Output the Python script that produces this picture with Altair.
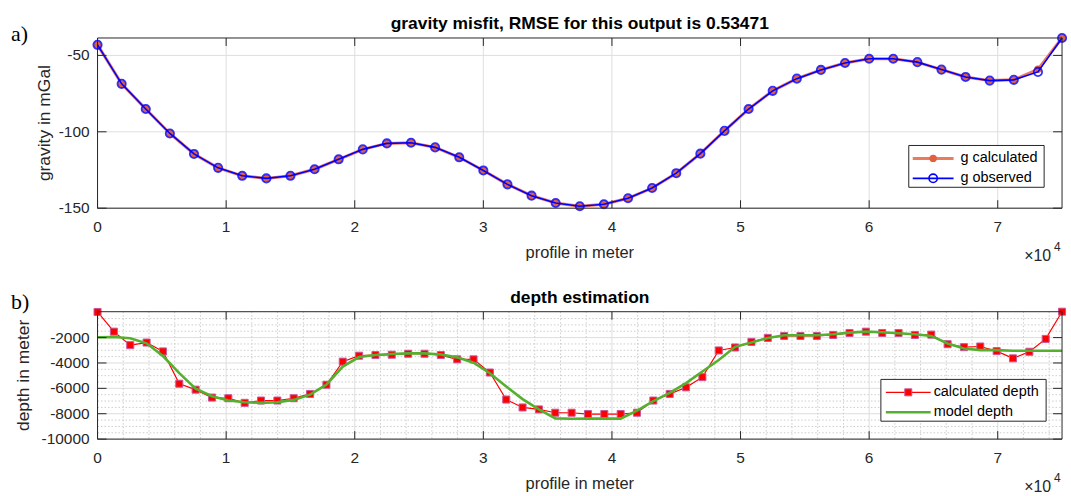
import altair as alt
import pandas as pd

FONT = "Liberation Sans"
SERIF = "Liberation Serif"
AXC = "#262626"
GRIDC = "#DEDEDE"
MINORC = "#CDCDCD"
ORANGE_LINE = "#EC7A5C"
ORANGE_DOT = "#DE6240"
BLUE = "#0000FF"
RED = "#FF0000"
SQ_EDGE = "#C85A9A"
GREEN = "#55B030"

W = 969
H1 = 171
H2 = 128
X_MAX = 75000

# ---------------- data: panel a) gravity ----------------
g_x = [0, 1875, 3750, 5625, 7500, 9375, 11250, 13125, 15000, 16875, 18750,
       20625, 22500, 24375, 26250, 28125, 30000, 31875, 33750, 35625, 37500,
       39375, 41250, 43125, 45000, 46875, 48750, 50625, 52500, 54375, 56250,
       58125, 60000, 61875, 63750, 65625, 67500, 69375, 71250, 73125, 75000]
g_obs = [-43.1, -68.6, -85.1, -101.1, -114.5, -123.6, -128.8, -130.5, -128.8, -124.5,
         -118.0, -111.5, -107.6, -107.2, -110.2, -116.7, -125.3, -134.4, -141.8, -146.6,
         -148.7, -147.4, -143.5, -136.8, -127.1, -114.3, -99.4, -85.1, -73.2, -65.2,
         -59.5, -55.0, -52.2, -52.2, -54.4, -59.3, -64.1, -66.5, -66.0, -60.8, -38.6]
g_calc = [-43.1, -68.6, -85.1, -101.1, -114.5, -123.6, -128.8, -130.5, -128.8, -124.5,
          -118.0, -111.5, -107.6, -107.2, -110.2, -116.7, -125.3, -134.4, -141.8, -146.6,
          -148.7, -147.4, -143.5, -136.8, -127.1, -114.3, -99.4, -85.1, -73.2, -65.2,
          -59.5, -55.0, -52.2, -52.2, -54.4, -59.3, -64.1, -66.5, -66.0, -59.1, -38.6]

# ---------------- data: panel b) depth ----------------
d_x = [0, 1271, 2542, 3814, 5085, 6356, 7627, 8898, 10169, 11441,
       12712, 13983, 15254, 16525, 17797, 19068, 20339, 21610, 22881, 24153,
       25424, 26695, 27966, 29237, 30508, 31780, 33051, 34322, 35593, 36864,
       38136, 39407, 40678, 41949, 43220, 44492, 45763, 47034, 48305, 49576,
       50847, 52119, 53390, 54661, 55932, 57203, 58475, 59746, 61017, 62288,
       63559, 64831, 66102, 67373, 68644, 69915, 71186, 72458, 73729, 75000]
d_calc = [20, -1533, -2597, -2390, -3091, -5636, -6103, -6727, -6778, -7142,
          -6960, -6960, -6778, -6441, -5714, -3896, -3428, -3376, -3350, -3273,
          -3273, -3376, -3714, -3714, -4753, -6882, -7506, -7661, -7921, -7921,
          -8025, -8025, -8025, -7921, -6960, -6441, -5921, -5116, -3013, -2779,
          -2338, -2026, -1870, -1870, -1870, -1792, -1636, -1533, -1636, -1636,
          -1792, -1766, -2519, -2753, -2701, -3065, -3636, -3117, -2104, 40]
d_model = [-1974, -1950, -2050, -2450, -3450, -4805, -6025, -6623, -6960, -7090,
           -7142, -7090, -6908, -6493, -5714, -4285, -3532, -3376, -3298, -3247,
           -3247, -3330, -3558, -3974, -4805, -5850, -6850, -7661, -8363, -8389,
           -8389, -8389, -8389, -7750, -7012, -6363, -5584, -4675, -3766, -2727,
           -2390, -2026, -1818, -1818, -1818, -1740, -1610, -1533, -1584, -1662,
           -1740, -1870, -2468, -2857, -2987, -2987, -3039, -3039, -3039, -3039]

# ---------------- axis ticks and labels ----------------
x_ticks = [0, 10000, 20000, 30000, 40000, 50000, 60000, 70000]
x_labels = ["0", "1", "2", "3", "4", "5", "6", "7"]
g_yticks = [-150, -100, -50]
g_ylabels = ["-150", "-100", "-50"]
g_ydomain = [-150, -38.6]
d_yticks = [-10000, -8000, -6000, -4000, -2000]
d_ylabels = ["-10000", "-8000", "-6000", "-4000", "-2000"]
d_ydomain = [-10000, 40]
d_xminor = [2000, 4000, 6000, 8000, 12000, 14000, 16000, 18000, 22000, 24000,
            26000, 28000, 32000, 34000, 36000, 38000, 42000, 44000, 46000, 48000,
            52000, 54000, 56000, 58000, 62000, 64000, 66000, 68000, 72000, 74000]
d_yminor = [-9500, -9000, -8500, -7500, -7000, -6500, -5500, -5000, -4500,
            -3500, -3000, -2500, -1500, -1000, -500]

one = pd.DataFrame({"k": [0]})


def XS():
    return alt.X("x:Q", scale=alt.Scale(domain=[0, X_MAX], nice=False, zero=False), axis=None)


def txt(s, x, y, size, bold=False, font=FONT, align="left", color="black",
        baseline="alphabetic", angle=0):
    return alt.Chart(one).mark_text(text=s, font=font, fontSize=size,
                                    fontWeight="bold" if bold else "normal",
                                    align=align, baseline=baseline, color=color,
                                    angle=angle).encode(x=alt.value(x), y=alt.value(y))


def axes(h, ydomain, yticks, ylabels, ytitle, ytitle_x, bottom_ext):
    ys = alt.Scale(domain=ydomain, nice=False, zero=False)

    def YS():
        return alt.Y("y:Q", scale=ys, axis=None)

    xt = pd.DataFrame({"x": x_ticks, "lab": x_labels})
    yt = pd.DataFrame({"y": yticks, "lab": ylabels})
    anchor = alt.Chart(one).mark_rect(opacity=0).encode(
        x=alt.value(-87), x2=alt.value(W), y=alt.value(-26), y2=alt.value(h + bottom_ext))
    grid = [
        alt.Chart(xt).mark_rule(color=GRIDC, strokeWidth=1).encode(
            x=XS(), y=alt.value(0), y2=alt.value(h)),
        alt.Chart(yt).mark_rule(color=GRIDC, strokeWidth=1).encode(
            y=YS(), x=alt.value(0), x2=alt.value(W)),
    ]
    deco = [
        alt.Chart(xt).mark_rule(color=AXC, strokeWidth=1).encode(
            x=XS(), y=alt.value(h), y2=alt.value(h - 8)),
        alt.Chart(xt).mark_rule(color=AXC, strokeWidth=1).encode(
            x=XS(), y=alt.value(0), y2=alt.value(8)),
        alt.Chart(yt).mark_rule(color=AXC, strokeWidth=1).encode(
            y=YS(), x=alt.value(0), x2=alt.value(9)),
        alt.Chart(yt).mark_rule(color=AXC, strokeWidth=1).encode(
            y=YS(), x=alt.value(W - 9), x2=alt.value(W)),
        alt.Chart(one).mark_rect(fillOpacity=0, stroke=AXC, strokeWidth=1).encode(
            x=alt.value(0), x2=alt.value(W), y=alt.value(0), y2=alt.value(h)),
        alt.Chart(xt).mark_text(font=FONT, fontSize=15.5, color=AXC, align="center",
                                baseline="alphabetic").encode(
            x=XS(), y=alt.value(h + 24), text="lab:N"),
        alt.Chart(yt).mark_text(font=FONT, fontSize=15.5, color=AXC, align="right",
                                baseline="middle").encode(
            y=YS(), x=alt.value(-8), text="lab:N"),
        txt("profile in meter", W / 2, h + 50, 16.5, align="center", color=AXC),
        txt(ytitle, ytitle_x, h / 2, 17.5, align="center", color=AXC,
            baseline="bottom", angle=270),
        txt("\u00d710", 931, h + 53, 16, color=AXC),
        txt("4", 961, h + 43, 12, color=AXC),
    ]
    return anchor, grid, deco, YS


# ---------------- panel a) ----------------
anchor_a, grid_a, deco_a, YA = axes(H1, g_ydomain, g_yticks, g_ylabels,
                                    "gravity in mGal", -44, 62)
df_calc = pd.DataFrame({"x": g_x, "y": g_calc})
df_obs = pd.DataFrame({"x": g_x, "y": g_obs})

line_calc = alt.Chart(df_calc).mark_line(color=ORANGE_LINE, strokeWidth=3).encode(x=XS(), y=YA())
pts_calc = alt.Chart(df_calc).mark_point(shape="circle", filled=True, size=55,
                                         color=ORANGE_DOT, opacity=1).encode(x=XS(), y=YA())
line_obs = alt.Chart(df_obs).mark_line(color=BLUE, strokeWidth=1.6).encode(x=XS(), y=YA())
pts_obs = alt.Chart(df_obs).mark_point(shape="circle", filled=False, size=70, color=BLUE,
                                       strokeWidth=1.8, opacity=0.8).encode(x=XS(), y=YA())

leg_a = [
    alt.Chart(one).mark_rect(fill="white", stroke=AXC, strokeWidth=1).encode(
        x=alt.value(815), x2=alt.value(951), y=alt.value(108), y2=alt.value(150)),
    alt.Chart(one).mark_rule(color=ORANGE_LINE, strokeWidth=3).encode(
        x=alt.value(819), x2=alt.value(860), y=alt.value(121)),
    alt.Chart(one).mark_point(shape="circle", filled=True, size=55, color=ORANGE_DOT,
                              opacity=1).encode(x=alt.value(839.5), y=alt.value(121)),
    txt("g calculated", 867, 121, 14.5, baseline="middle"),
    alt.Chart(one).mark_rule(color=BLUE, strokeWidth=1.6).encode(
        x=alt.value(819), x2=alt.value(860), y=alt.value(141)),
    alt.Chart(one).mark_point(shape="circle", filled=False, size=70, color=BLUE,
                              strokeWidth=1.6, opacity=1).encode(x=alt.value(839.5), y=alt.value(141)),
    txt("g observed", 867, 141, 14.5, baseline="middle"),
]

panel_a = alt.layer(
    anchor_a, *grid_a, line_calc, pts_calc, line_obs, pts_obs, *deco_a, *leg_a,
    txt("gravity misfit, RMSE for this output is 0.53471", W / 2, -9, 17.5, bold=True, align="center"),
    txt("a)", -87, 3, 22, font=SERIF),
).properties(width=W, height=H1)

# ---------------- panel b) ----------------
anchor_b, grid_b, deco_b, YB = axes(H2, d_ydomain, d_yticks, d_ylabels,
                                    "depth in meter", -65, 57)
df_dc = pd.DataFrame({"x": d_x, "y": d_calc})
df_dm = pd.DataFrame({"x": d_x, "y": d_model})
mx = pd.DataFrame({"x": d_xminor})
my = pd.DataFrame({"y": d_yminor})

minor_x = alt.Chart(mx).mark_rule(color=MINORC, strokeWidth=1, strokeDash=[1.5, 2]).encode(
    x=XS(), y=alt.value(0), y2=alt.value(H2))
minor_y = alt.Chart(my).mark_rule(color=MINORC, strokeWidth=1, strokeDash=[1.5, 2]).encode(
    y=YB(), x=alt.value(0), x2=alt.value(W))

line_dc = alt.Chart(df_dc).mark_line(color=RED, strokeWidth=1.2).encode(x=XS(), y=YB())
sq_dc = alt.Chart(df_dc).mark_point(shape="square", filled=True, size=50, fill=RED,
                                    stroke=SQ_EDGE, strokeWidth=1, opacity=1).encode(x=XS(), y=YB())
line_dm = alt.Chart(df_dm).mark_line(color=GREEN, strokeWidth=2.6).encode(x=XS(), y=YB())

leg_b = [
    alt.Chart(one).mark_rect(fill="white", stroke=AXC, strokeWidth=1).encode(
        x=alt.value(787), x2=alt.value(953), y=alt.value(68), y2=alt.value(110)),
    alt.Chart(one).mark_rule(color=RED, strokeWidth=1.2).encode(
        x=alt.value(792), x2=alt.value(837), y=alt.value(81)),
    alt.Chart(one).mark_point(shape="square", filled=True, size=50, fill=RED, stroke=SQ_EDGE,
                              strokeWidth=1, opacity=1).encode(x=alt.value(814.5), y=alt.value(81)),
    txt("calculated depth", 840, 81, 14.5, baseline="middle"),
    alt.Chart(one).mark_rule(color=GREEN, strokeWidth=2.6).encode(
        x=alt.value(792), x2=alt.value(837), y=alt.value(101)),
    txt("model depth", 840, 101, 14.5, baseline="middle"),
]

panel_b = alt.layer(
    anchor_b, *grid_b, minor_x, minor_y, line_dc, sq_dc, line_dm, *deco_b, *leg_b,
    txt("depth estimation", W / 2, -9, 17.5, bold=True, align="center"),
    txt("b)", -87, -3, 22, font=SERIF),
).properties(width=W, height=H2)

chart = alt.vconcat(panel_a, panel_b, spacing=14).properties(
    padding={"left": 10, "top": 10, "right": 0, "bottom": 0}
).configure_view(stroke="transparent")

chart.save("out.html", embed_options={"renderer": "svg", "actions": False})
